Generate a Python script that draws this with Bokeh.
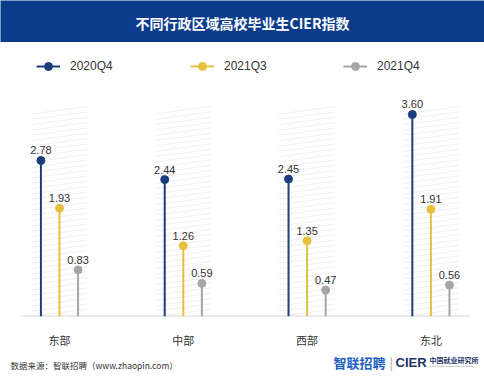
from bokeh.plotting import figure
from bokeh.models import (Range1d, ColumnDataSource, LabelSet, Label, Legend,
                          LegendItem, FixedTicker)
from bokeh.layouts import column
from bokeh.embed import file_html
from bokeh.resources import INLINE
from bokeh.core.properties import value

# ---------------- data ----------------
regions = ["东部", "中部", "西部", "东北"]
series_names = ["2020Q4", "2021Q3", "2021Q4"]
v2020q4 = [2.78, 2.44, 2.45, 3.60]
v2021q3 = [1.93, 1.26, 1.35, 1.91]
v2021q4 = [0.83, 0.59, 0.47, 0.56]
title_text = "不同行政区域高校毕业生CIER指数"
source_text = "数据来源：智联招聘（www.zhaopin.com）"

# ---------------- styles ----------------
W = 484
HDR_H, MAIN_H, FOOT_H = 42, 308, 30
HEADER_BG = "#0b3c8c"
colors = ["#1b3f7c", "#e5c13d", "#a6a6a6"]
offsets = [-0.15, 0.0, 0.15]
legend_x = [36, 190, 343]
CJK = "Noto Sans CJK SC"
LAT = "Liberation Sans"
TXT = "#333333"
X_START, X_END = -0.4766, 3.433      # full-width frame
BASE_L, BASE_R = -0.315, 3.32        # extent of the baseline
HATCH_TOP = 3.75
HATCH_HALF = 0.225
HATCH_STEP = 0.095
HATCH_RISE = 0.13


def blank(h, bg="white"):
    f = figure(width=W, height=h, x_range=Range1d(0, W), y_range=Range1d(0, h),
               output_backend="svg", toolbar_location=None,
               x_axis_location=None, y_axis_location=None, min_border=0)
    f.grid.visible = False
    f.outline_line_color = None
    f.background_fill_color = bg
    f.border_fill_color = bg
    return f


# ---------------- header ----------------
hdr = blank(HDR_H, HEADER_BG)
hdr.add_layout(Label(x=W / 2, y=20, text=title_text, text_align="center",
                     text_baseline="middle", text_color="white", text_font=CJK,
                     text_font_size="14px", text_font_style="bold"))

# ---------------- main chart ----------------
x_idx = list(range(len(regions)))
p = figure(width=W, height=MAIN_H, x_range=Range1d(X_START, X_END),
           y_range=Range1d(0, 4.74), output_backend="svg", toolbar_location=None,
           y_axis_location=None, min_border_left=0, min_border_right=0,
           min_border_top=8, min_border_bottom=30)
p.grid.visible = False
p.outline_line_color = None
p.background_fill_color = "white"
p.border_fill_color = "white"

# hatched background panels (decoration): slanted thin lines behind each group
hx0, hy0, hx1, hy1 = [], [], [], []
n_lines = int(HATCH_TOP / HATCH_STEP)
for i in x_idx:
    for k in range(n_lines):
        y_start = k * HATCH_STEP
        y_end = y_start + HATCH_RISE
        if y_end > HATCH_TOP:
            break
        hx0.append(i - HATCH_HALF)
        hy0.append(y_start)
        hx1.append(i + HATCH_HALF)
        hy1.append(y_end)
p.segment(x0=hx0, y0=hy0, x1=hx1, y1=hy1, line_color="#efefef", line_width=1)

# baseline
p.segment(x0=[BASE_L], y0=[0], x1=[BASE_R], y1=[0], line_color="#d9d9d9", line_width=2)

ax = p.xaxis[0]
ax.ticker = FixedTicker(ticks=x_idx)
ax.major_label_overrides = {i: r for i, r in zip(x_idx, regions)}
ax.axis_line_color = None
ax.major_tick_line_color = None
ax.minor_tick_line_color = None
ax.major_label_standoff = 9
ax.major_label_text_font = CJK
ax.major_label_text_font_size = "11px"
ax.major_label_text_color = TXT

for name, vals, off, col, lx in zip(series_names, [v2020q4, v2021q3, v2021q4],
                                    offsets, colors, legend_x):
    xs = [i + off for i in x_idx]
    src = ColumnDataSource(dict(x=xs, y=vals, y0=[0] * len(vals),
                                lab=[f"{v:.2f}" for v in vals]))
    seg = p.segment(x0="x", y0="y0", x1="x", y1="y", source=src,
                    line_color=col, line_width=2)
    dot = p.scatter(x="x", y="y", source=src, size=8, fill_color=col, line_color=col)
    p.add_layout(LabelSet(x="x", y="y", text="lab", source=src, text_align="center",
                          text_baseline="bottom", y_offset=6,
                          text_font=value(LAT), text_font_size="11px",
                          text_color=TXT))
    leg = Legend(items=[LegendItem(label=name, renderers=[seg, dot])],
                 location=(lx, 240), padding=0, margin=0, border_line_color=None,
                 background_fill_alpha=0, glyph_width=24, glyph_height=20,
                 label_standoff=10, label_text_font=LAT, label_text_font_size="12px",
                 label_text_color=TXT, label_height=20)
    p.add_layout(leg)

# ---------------- footer ----------------
ft = blank(FOOT_H)
ft.add_layout(Label(x=10, y=16, text=source_text, text_baseline="middle",
                    text_font=CJK, text_font_size="8.5px", text_color=TXT))
ft.add_layout(Label(x=333, y=18, text="智联招聘", text_baseline="middle",
                    text_font=CJK, text_font_size="13px", text_font_style="bold",
                    text_color="#1f5fbf"))
ft.add_layout(Label(x=389, y=18, text="|", text_baseline="middle",
                    text_font=LAT, text_font_size="14px", text_color="#bbbbbb"))
ft.add_layout(Label(x=395, y=18, text="CIER", text_baseline="middle",
                    text_font=LAT, text_font_size="13px", text_font_style="bold",
                    text_color="#1b3366"))
ft.add_layout(Label(x=429, y=21, text="中国就业研究所", text_baseline="middle",
                    text_font=CJK, text_font_size="7px", text_font_style="bold",
                    text_color="#1b3366"))
ft.add_layout(Label(x=429, y=14, text="China Institute for Employment Research",
                    text_baseline="middle", text_font=LAT, text_font_size="2.4px",
                    text_color="#777777"))

layout = column(hdr, p, ft, spacing=0)
open("out.html", "w").write(file_html(layout, INLINE))
